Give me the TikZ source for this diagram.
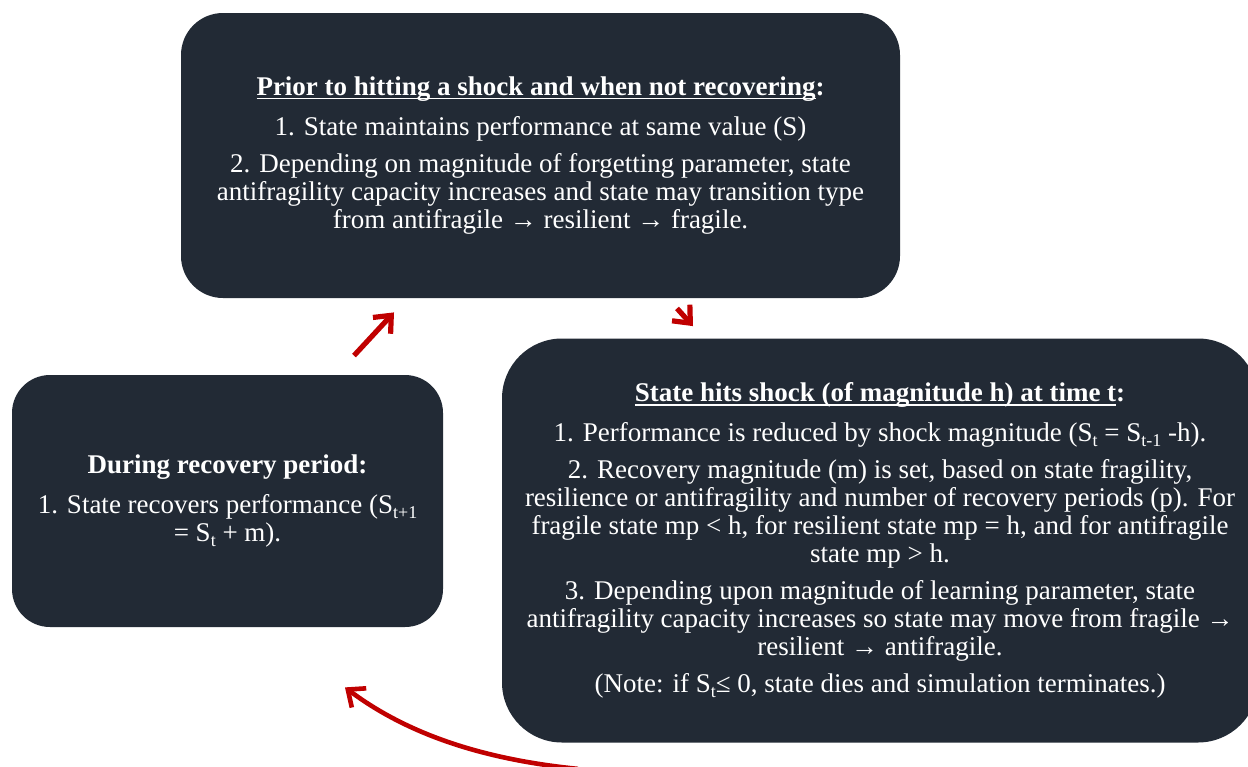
\documentclass[tikz,border=0pt]{standalone}
\usepackage{fontspec}
\setmainfont{Liberation Serif}
\usepackage{tikz}
\usetikzlibrary{positioning, calc, arrows.meta}

\definecolor{BoxNavy}{HTML}{222A35}
\definecolor{ArrowRed}{HTML}{C00000}

\newcommand{\HeadLine}[1]{\setbox0\hbox{#1}\rlap{\rule[-2pt]{\wd0}{0.8pt}}\box0}
\newcommand{\Sidx}[1]{S\raisebox{-2.5pt}{\fontsize{9}{9}\selectfont #1}}

\begin{document}
\begin{tikzpicture}[x=0.5pt, y=-0.5pt,
					StageBox/.style={fill=BoxNavy, text=white, align=center, font=\fontsize{13.5}{14}\selectfont},
					CycleArrow/.style={draw=ArrowRed, line width=2.6pt, -{Straight Barb[length=7pt, width=12pt]}}]

				\clip (0,0) rectangle (1248,766);
				\fill[white] (0,0) rectangle (1248,766);

				\node[StageBox, minimum width=359.5pt, minimum height=142.5pt, rounded corners=21pt] (Prior) at (540.5,155.5) {\textbf{\HeadLine{Prior to hitting a shock and when not recovering}:}\\[6pt]
					1. State maintains performance at same value (S)\\[4.5pt]
					2. Depending on magnitude of forgetting parameter, state\\
					antifragility capacity increases and state may transition type\\
					from antifragile → resilient → fragile.};

				\node[StageBox, minimum width=215.5pt, minimum height=126pt, rounded corners=19pt] (Recovery) at (227.5,501) {\textbf{During recovery period:}\\[6pt]
					1. State recovers performance (\Sidx{t+1}\\
					= \Sidx{t} + m).};

				\node[StageBox, minimum width=378pt, minimum height=202pt, rounded corners=30pt] (Shock) at (880,540.5) {\textbf{\HeadLine{State hits shock (of magnitude h) at time t}:}\\[6pt]
					1. Performance is reduced by shock magnitude (\Sidx{t} = \Sidx{t-1} -h).\\[4.5pt]
					2. Recovery magnitude (m) is set, based on state fragility,\\
					resilience or antifragility and number of recovery periods (p). For\\
					fragile state mp < h, for resilient state mp = h, and for antifragile\\
					state mp > h.\\[4.5pt]
					3. Depending upon magnitude of learning parameter, state\\
					antifragility capacity increases so state may move from fragile →\\
					resilient → antifragile.\\[4.5pt]
					(Note: if \Sidx{t}≤ 0, state dies and simulation terminates.)};

				\draw[CycleArrow] ([shift={(126.5,-19)}]Recovery.north) -- ([shift={(-146.5,14)}]Prior.south);
				\draw[CycleArrow] ([shift={(136.5,10)}]Prior.south) -- ([shift={(-187,-12)}]Shock.north);
				\draw[CycleArrow, line width=2.3pt] ([shift={(-302,26)}]Shock.south) .. controls +(-85,-8.5) and +(68,51) .. ([shift={(117.5,60)}]Recovery.south);
			\end{tikzpicture}
\end{document}
